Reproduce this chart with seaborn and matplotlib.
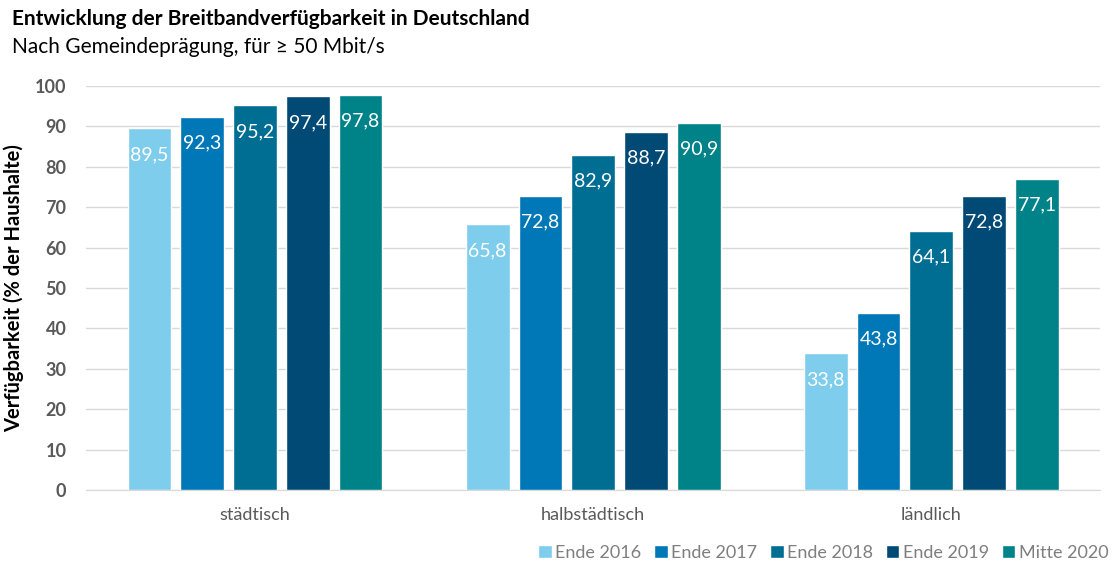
import matplotlib
matplotlib.use("Agg")
import matplotlib.pyplot as plt
import seaborn as sns
import pandas as pd

# Daten
kategorien = ["städtisch", "halbstädtisch", "ländlich"]
zeitpunkte = ["Ende 2016", "Ende 2017", "Ende 2018", "Ende 2019", "Mitte 2020"]
ende_2016 = [89.5, 65.8, 33.8]
ende_2017 = [92.3, 72.8, 43.8]
ende_2018 = [95.2, 82.9, 64.1]
ende_2019 = [97.4, 88.7, 72.8]
mitte_2020 = [97.8, 90.9, 77.1]
farben = ["#7FCDEC", "#0077B6", "#006E93", "#004A75", "#008289"]

rows = []
for zp, werte in zip(zeitpunkte, [ende_2016, ende_2017, ende_2018, ende_2019, mitte_2020]):
    for kat, w in zip(kategorien, werte):
        rows.append({"Gemeinde": kat, "Zeitpunkt": zp, "Wert": w})
df = pd.DataFrame(rows)

sns.set_style("white")
plt.rcParams["font.family"] = ["Lato", "DejaVu Sans"]

fig = plt.figure(figsize=(11.16, 5.62), dpi=100)
ax = fig.add_axes([0.077, 0.128, 0.909, 0.719])

sns.barplot(data=df, x="Gemeinde", y="Wert", hue="Zeitpunkt", order=kategorien,
            hue_order=zeitpunkte, palette=farben, width=0.78, gap=0.17,
            saturation=1, ax=ax, zorder=3)

for cont in ax.containers:
    ax.bar_label(cont, labels=[f"{v:.1f}".replace(".", ",") for v in cont.datavalues],
                 label_type="edge", padding=-25, color="white", fontsize=14)

ax.set_ylim(0, 100)
ax.set_yticks(range(0, 101, 10))
ax.grid(axis="y", color="#D9D9D9", linewidth=1, zorder=0)
for s in ["top", "right", "left"]:
    ax.spines[s].set_visible(False)
ax.spines["bottom"].set_color("#D9D9D9")
ax.tick_params(axis="y", length=0, labelsize=13, labelcolor="#595959", pad=14)
ax.tick_params(axis="x", length=0, labelsize=13, labelcolor="#595959", pad=12)
for t in ax.get_yticklabels():
    t.set_fontweight("bold")
ax.set_xlabel("")
ax.set_ylabel("Verfügbarkeit (% der Haushalte)", fontsize=14.5, fontweight="bold",
              color="black", labelpad=8)

ax.legend(loc="lower right", bbox_to_anchor=(1.024, -0.215), ncol=5, frameon=False,
          handlelength=0.75, handleheight=0.75, handletextpad=0.2, columnspacing=0.7,
          fontsize=13, labelcolor="#7F7F7F")

fig.text(0.011, 0.955, "Entwicklung der Breitbandverfügbarkeit in Deutschland",
         fontsize=15, fontweight="bold", color="black")
fig.text(0.011, 0.905, "Nach Gemeindeprägung, für ≥ 50 Mbit/s", fontsize=15, color="black")

fig.savefig("out.png", dpi=100)
